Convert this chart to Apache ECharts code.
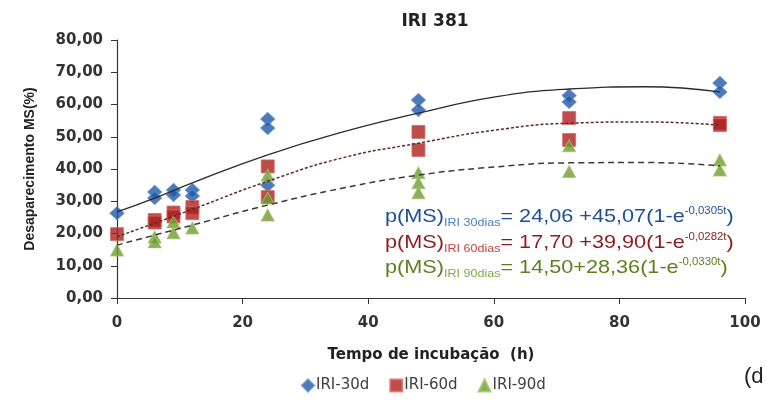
<!DOCTYPE html>
<html>
<head>
<meta charset="utf-8">
<script src="https://cdn.jsdelivr.net/npm/echarts@6/dist/echarts.min.js"></script>
<style>
html,body{margin:0;padding:0;background:#fff;}
#main{width:767px;height:401px;}
</style>
</head>
<body>
<div id="main"></div>
<script>
//pontos observados [tempo (h), desaparecimento (%)]
var iri30Pontos = [[0,26.3],[6,32.9],[6,31.0],[9,33.5],[9,31.9],[12,33.5],[12,31.6],[24,55.5],[24,52.7],[24,35.0],[48,61.4],[48,58.3],[72,62.8],[72,60.8],[96,66.7],[96,63.9]];
var iri60Pontos = [[0,19.8],[6,24.2],[6,23.4],[9,26.5],[9,25.3],[12,28.2],[12,26.3],[24,40.8],[24,31.3],[48,51.5],[48,45.9],[72,55.8],[72,49.0],[96,54.3],[96,53.6]];
var iri90Pontos = [[0,14.9],[6,18.9],[6,17.4],[9,23.6],[9,20.2],[12,21.7],[24,38.1],[24,31.0],[24,25.7],[48,38.8],[48,35.7],[48,32.6],[72,47.2],[72,39.2],[96,42.8],[96,39.7]];
//linhas de tendencia
var curvaTempo = [0,6,12,24,36,48,60,72,84,96];
var iri30Curva = [26.7,31.0,35.7,44.4,51.5,57.3,62.3,64.8,65.5,63.9];
var iri60Curva = [19.0,23.2,27.5,36.2,43.5,48.0,52.0,54.2,54.6,53.6];
var iri90Curva = [16.4,19.5,22.6,28.8,34.1,38.1,40.6,41.9,42.0,41.0];
var nomes = ['IRI-30d','IRI-60d','IRI-90d'];
var yTicks = [0,10,20,30,40,50,60,70,80];
var xTicks = [0,20,40,60,80,100];

function juntar(tempos, valores) {
    var out = [];
    for (var i = 0; i < tempos.length; i++) {
        out.push([tempos[i], valores[i]]);
    }
    return out;
}

var fonteEixo = {fontFamily:'DejaVu Sans', fontWeight:'bold', fontSize:15, color:'#333'};

//texto das equacoes (rich text)
function equacao(cor, corSub, sub, resto, sup, fim) {
    return {
        type:'text',
        left:385,
        scaleX:1.14,
        style:{
            text:'{m|p(MS)}{s|' + sub + '}{m|' + resto + '}{e|' + sup + '}{m|' + fim + '}',
            rich:{
                m:{fontFamily:'Liberation Sans', fontSize:19, fill:cor, verticalAlign:'middle', lineHeight:22},
                s:{fontFamily:'Liberation Sans', fontSize:11, fill:corSub, verticalAlign:'bottom', lineHeight:22},
                e:{fontFamily:'Liberation Sans', fontSize:10, fill:cor, verticalAlign:'top', lineHeight:22}
            }
        }
    };
}

var myChart = echarts.init(document.getElementById('main'));
var eq1 = equacao('#1f4e96','#4a7fc4','IRI 30dias','= 24,06 +45,07(1-e','-0,0305t',')');
eq1.top = 206;
var eq2 = equacao('#8e1c1c','#c8463c','IRI 60dias','= 17,70 +39,90(1-e','-0,0282t',')');
eq2.top = 232;
var eq3 = equacao('#5e7f1e','#86a84a','IRI 90dias','= 14,50+28,36(1-e','-0,0330t',')');
eq3.top = 257;

var option = {
    backgroundColor:'#fff',
    animation:false,
    title:{
        text:'IRI 381',
        left:430,
        top:8,
        textAlign:'center',
        textStyle:{fontFamily:'DejaVu Sans', fontWeight:'bold', fontSize:17, color:'#222'}
    },
    legend:{
        data:[
            {name:nomes[0], icon:'diamond'},
            {name:nomes[1], icon:'rect'},
            {name:nomes[2], icon:'triangle'}
        ],
        left:296,
        top:373,
        itemWidth:12,
        itemHeight:12,
        itemGap:20,
        textStyle:{fontFamily:'DejaVu Sans', fontSize:15, color:'#404040', padding:[0,0,0,-3]}
    },
    grid:{
        left:117,
        right:22,
        top:40,
        bottom:103
    },
    xAxis:{
        type:'value',
        min:xTicks[0],
        max:xTicks[xTicks.length-1],
        interval:20,
        name:'Tempo de incubação  (h)',
        nameLocation:'middle',
        nameGap:50,
        nameTextStyle:{fontFamily:'DejaVu Sans', fontWeight:'bold', fontSize:15, color:'#222'},
        axisLine:{lineStyle:{color:'#333', width:1.2}},
        axisTick:{show:true, length:6, lineStyle:{color:'#333'}},
        axisLabel:Object.assign({margin:18}, fonteEixo),
        splitLine:{show:false}
    },
    yAxis:{
        type:'value',
        min:yTicks[0],
        max:yTicks[yTicks.length-1],
        interval:10,
        name:'Desaparecimento MS(%)',
        nameLocation:'middle',
        nameGap:80,
        nameTextStyle:{fontFamily:'Liberation Sans', fontWeight:'bold', fontSize:14, color:'#222'},
        axisLine:{show:true, lineStyle:{color:'#333', width:1.2}},
        axisTick:{show:true, length:6, lineStyle:{color:'#333'}},
        axisLabel:Object.assign({margin:14, formatter:function (v) {
            return v.toFixed(2).replace('.', ',');
        }}, fonteEixo),
        splitLine:{show:false}
    },
    series:[
        {
            name:nomes[0], type:'scatter', symbol:'diamond', symbolSize:[14,13],
            itemStyle:{color:'#1f58a6', borderColor:'#5586c8', borderWidth:1},
            data:iri30Pontos, z:2
        },
        {
            name:nomes[1], type:'scatter', symbol:'rect', symbolSize:[13,13],
            itemStyle:{color:'#ad1f1d', borderColor:'#d66a66', borderWidth:1},
            data:iri60Pontos, z:2
        },
        {
            name:nomes[2], type:'scatter', symbol:'triangle', symbolSize:[13,12],
            itemStyle:{color:'#6f9c2e', borderColor:'#a0c46a', borderWidth:1},
            data:iri90Pontos, z:2
        },
        {
            name:'curva30', type:'line', smooth:true, showSymbol:false, silent:true,
            lineStyle:{color:'#2b2b2b', width:1.3, type:'solid'},
            data:juntar(curvaTempo, iri30Curva), z:3
        },
        {
            name:'curva60', type:'line', smooth:true, showSymbol:false, silent:true,
            lineStyle:{color:'#5a2b2b', width:1.5, type:[3,2]},
            data:juntar(curvaTempo, iri60Curva), z:3
        },
        {
            name:'curva90', type:'line', smooth:true, showSymbol:false, silent:true,
            lineStyle:{color:'#3a3a3a', width:1.5, type:[6,4]},
            data:juntar(curvaTempo, iri90Curva), z:3
        }
    ],
    graphic:[
        eq1, eq2, eq3,
        {
            type:'text',
            left:744,
            top:366,
            style:{text:'(d', fontFamily:'Liberation Sans', fontSize:22, fill:'#222'}
        }
    ]
};
myChart.setOption(option);
</script>
</body>
</html>
